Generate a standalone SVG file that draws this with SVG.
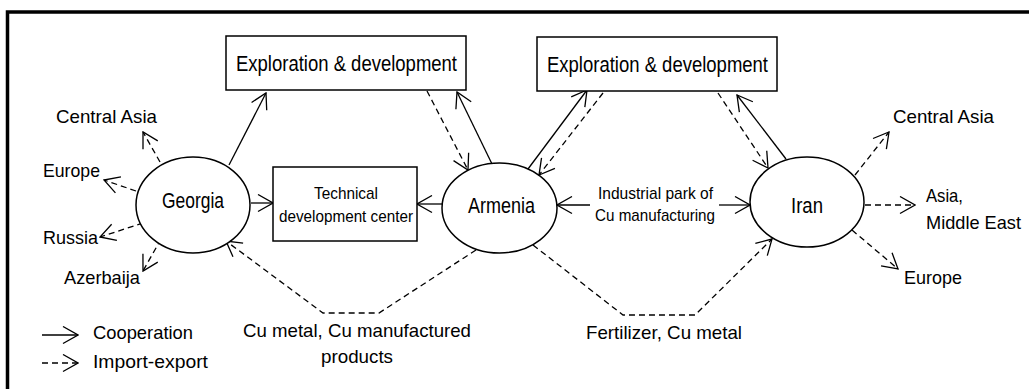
<svg xmlns="http://www.w3.org/2000/svg" width="1029" height="389" viewBox="0 0 1029 389">
  <style>
    .ln{fill:none;stroke:#000;stroke-width:1.3}
    .ds{stroke-dasharray:6 4}
    .nd{fill:#fff;stroke:#000;stroke-width:1.5}
    text{font-family:"Liberation Sans",Arial,sans-serif;fill:#000}
    .l{font-size:21.5px}
    .m{font-size:19px}
    .s{font-size:17px}
  </style>
  <defs>
    <marker id="ah" markerUnits="userSpaceOnUse" markerWidth="17" markerHeight="19" refX="16" refY="9.5" orient="auto" viewBox="0 0 17 19">
      <path d="M1,1 L16,9.5 L1,18" fill="none" stroke="#000" stroke-width="1.3"/>
    </marker>
  </defs>

  <!-- outer frame -->
  <rect x="7.5" y="12" width="1030" height="390" fill="none" stroke="#000" stroke-width="3.5"/>

  <g id="connectors">
    <!-- Georgia -->
    <path class="ln" d="M229,165 L266,93" marker-end="url(#ah)"/>
    <path class="ln ds" d="M160,162 L143,132" marker-end="url(#ah)"/>
    <path class="ln ds" d="M136,191 L104,180" marker-end="url(#ah)"/>
    <path class="ln ds" d="M143,223 L100,237" marker-end="url(#ah)"/>
    <path class="ln ds" d="M161,239 L143,271" marker-end="url(#ah)"/>
    <path class="ln" d="M251,203 L273,203" marker-end="url(#ah)"/>
    <!-- Armenia -->
    <path class="ln" d="M442,204 L417,204" marker-end="url(#ah)"/>
    <path class="ln ds" d="M427,91 L468,170" marker-end="url(#ah)"/>
    <path class="ln" d="M492,164 L457,92" marker-end="url(#ah)"/>
    <path class="ln" d="M528,169 L587,90" marker-end="url(#ah)"/>
    <path class="ln ds" d="M603,93 L539,175" marker-end="url(#ah)"/>
    <path class="ln" d="M590,205 L557,205" marker-end="url(#ah)"/>
    <path class="ln" d="M719,205 L750,205" marker-end="url(#ah)"/>
    <path class="ln ds" d="M476,250 L379,313 L323,313 L226,241" marker-end="url(#ah)"/>
    <path class="ln ds" d="M533,245 L623,315 L695,315 L772,239" marker-end="url(#ah)"/>
    <!-- Iran -->
    <path class="ln ds" d="M718,93 L768,168" marker-end="url(#ah)"/>
    <path class="ln" d="M786,159 L737,95" marker-end="url(#ah)"/>
    <path class="ln ds" d="M855,175 L889,132" marker-end="url(#ah)"/>
    <path class="ln ds" d="M865,205 L915,205" marker-end="url(#ah)"/>
    <path class="ln ds" d="M852,230 L898,269" marker-end="url(#ah)"/>
    <!-- legend -->
    <path class="ln" d="M42,335 L78,335" marker-end="url(#ah)"/>
    <path class="ln ds" d="M42,363 L78,363" marker-end="url(#ah)"/>
  </g>

  <g id="exploration-1">
    <rect class="nd" x="226" y="36" width="240" height="54"/>
    <text class="l" x="236" y="71" textLength="221" lengthAdjust="spacingAndGlyphs">Exploration &amp; development</text>
  </g>
  <g id="exploration-2">
    <rect class="nd" x="537" y="37" width="240" height="54"/>
    <text class="l" x="547" y="72" textLength="221" lengthAdjust="spacingAndGlyphs">Exploration &amp; development</text>
  </g>
  <g id="tech-center">
    <rect class="nd" x="273" y="167" width="144" height="74"/>
    <text class="s" x="314" y="199" textLength="64" lengthAdjust="spacingAndGlyphs">Technical</text>
    <text class="s" x="279" y="222" textLength="134" lengthAdjust="spacingAndGlyphs">development center</text>
  </g>
  <g id="georgia">
    <ellipse class="nd" cx="193" cy="205" rx="57" ry="48"/>
    <text class="l" x="162" y="208" textLength="62" lengthAdjust="spacingAndGlyphs">Georgia</text>
  </g>
  <g id="armenia">
    <ellipse class="nd" cx="499.5" cy="208" rx="57.5" ry="45"/>
    <text class="l" x="468" y="213" textLength="67" lengthAdjust="spacingAndGlyphs">Armenia</text>
  </g>
  <g id="iran">
    <ellipse class="nd" cx="807" cy="202" rx="57" ry="45"/>
    <text class="l" x="791" y="213" textLength="32" lengthAdjust="spacingAndGlyphs">Iran</text>
  </g>
  <g id="industrial-park">
    <text class="s" x="598" y="199" textLength="115" lengthAdjust="spacingAndGlyphs">Industrial park of</text>
    <text class="s" x="595" y="221" textLength="120" lengthAdjust="spacingAndGlyphs">Cu manufacturing</text>
  </g>

  <g id="destinations">
    <text class="m" x="56" y="123" textLength="101" lengthAdjust="spacingAndGlyphs">Central Asia</text>
    <text class="m" x="43" y="177" textLength="57" lengthAdjust="spacingAndGlyphs">Europe</text>
    <text class="m" x="43" y="244" textLength="55" lengthAdjust="spacingAndGlyphs">Russia</text>
    <text class="m" x="64" y="284" textLength="76" lengthAdjust="spacingAndGlyphs">Azerbaija</text>
    <text class="m" x="893" y="123" textLength="101" lengthAdjust="spacingAndGlyphs">Central Asia</text>
    <text class="m" x="926" y="202" textLength="37" lengthAdjust="spacingAndGlyphs">Asia,</text>
    <text class="m" x="926" y="229" textLength="95" lengthAdjust="spacingAndGlyphs">Middle East</text>
    <text class="m" x="904" y="284" textLength="58" lengthAdjust="spacingAndGlyphs">Europe</text>
  </g>

  <g id="trade-goods">
    <text class="m" x="243" y="337" textLength="228" lengthAdjust="spacingAndGlyphs">Cu metal, Cu manufactured</text>
    <text class="m" x="321" y="363" textLength="72" lengthAdjust="spacingAndGlyphs">products</text>
    <text class="m" x="586" y="339" textLength="156" lengthAdjust="spacingAndGlyphs">Fertilizer, Cu metal</text>
  </g>

  <g id="legend">
    <text class="m" x="93" y="339" textLength="100" lengthAdjust="spacingAndGlyphs">Cooperation</text>
    <text class="m" x="93" y="368" textLength="115" lengthAdjust="spacingAndGlyphs">Import-export</text>
  </g>
</svg>
